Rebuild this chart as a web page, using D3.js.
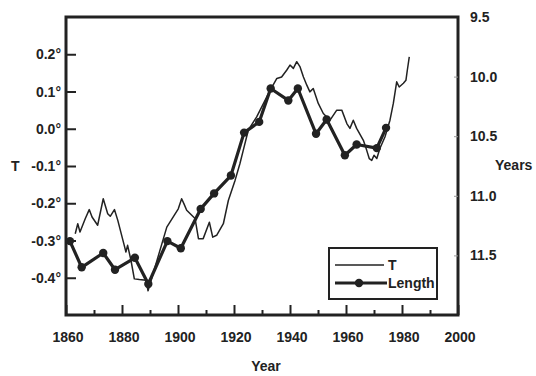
<!DOCTYPE html>
<html>
<head>
<meta charset="utf-8">
<script src="https://cdn.jsdelivr.net/npm/d3@7.9.0/dist/d3.min.js"></script>
<style>
  body { margin: 0; background: #fff; }
  svg text { font-family: "Liberation Sans", Arial, sans-serif; font-weight: bold; fill: #222; }
</style>
</head>
<body>
<svg id="chart" width="536" height="376"></svg>
<script>
// temperature anomaly (thin line)
const tYears = [1863.3, 1864.2, 1865.0, 1866.9, 1868.3, 1869.3, 1871.3, 1873.3, 1874.9, 1875.8, 1877.3, 1878.5,
  1880.8, 1881.4, 1882.0, 1883.2, 1884.4, 1886.2, 1888.6, 1889.3, 1896.0, 1900.1, 1901.3, 1902.1, 1903.1,
  1906.1, 1907.3, 1909.0, 1911.2, 1912.4, 1913.8, 1916.2, 1918.0, 1919.2, 1920.4, 1922.1, 1923.3, 1925.1,
  1928.1, 1932.9, 1935.3, 1937.0, 1938.8, 1940.0, 1941.2, 1942.4, 1943.6, 1944.8, 1946.0, 1947.1, 1948.3,
  1950.1, 1951.9, 1954.3, 1956.7, 1958.5, 1960.3, 1961.4, 1962.6, 1963.8, 1966.2, 1967.4, 1968.3, 1969.2,
  1970.0, 1971.0, 1972.1, 1973.9, 1975.7, 1976.9, 1978.1, 1979.0, 1980.5, 1981.4, 1981.9, 1982.6];
const tValues = [-0.282, -0.255, -0.277, -0.241, -0.217, -0.237, -0.259, -0.188, -0.228, -0.235, -0.217, -0.246,
  -0.313, -0.331, -0.313, -0.353, -0.403, -0.405, -0.407, -0.435, -0.264, -0.215, -0.188, -0.201, -0.219,
  -0.241, -0.295, -0.295, -0.251, -0.291, -0.286, -0.255, -0.192, -0.165, -0.138, -0.094, -0.058, -0.004,
  0.032, 0.103, 0.135, 0.139, 0.157, 0.171, 0.162, 0.180, 0.166, 0.139, 0.117, 0.099, 0.108,
  0.068, 0.041, 0.023, 0.050, 0.050, 0.014, 0.001, 0.023, 0.001, -0.031, -0.058, -0.080, -0.085,
  -0.071, -0.080, -0.053, -0.022, 0.023, 0.068, 0.126, 0.112, 0.122, 0.130, 0.157, 0.193];

// solar cycle length (thick line with dots, right axis)
const lenYears = [1861.4, 1865.6, 1873.3, 1877.5, 1884.6, 1889.4, 1896.2, 1901.0, 1908.1, 1912.9, 1918.9,
  1923.6, 1929.0, 1933.1, 1939.4, 1942.8, 1949.3, 1953.1, 1959.6, 1963.8, 1971.0, 1974.3];
const lenValues = [11.38, 11.60, 11.48, 11.62, 11.52, 11.74, 11.38, 11.44, 11.11, 10.98, 10.83,
  10.47, 10.38, 10.10, 10.20, 10.10, 10.48, 10.36, 10.66, 10.57, 10.60, 10.43];

const xTicks = [1860, 1880, 1900, 1920, 1940, 1960, 1980, 2000];
const xMinor = [1870, 1890, 1910, 1930, 1950, 1970, 1990];
const tTicks = [0.2, 0.1, 0.0, -0.1, -0.2, -0.3, -0.4];
const lenTicks = [9.5, 10.0, 10.5, 11.0, 11.5];

let svg = d3.select("#chart");
let ink = "#222";
let fs = "14px";

let x = d3.scaleLinear().domain([1860, 2000]).range([66, 458]);
let yT = d3.scaleLinear().domain([-0.5, 0.3]).range([315, 17]);
let yL = d3.scaleLinear().domain([9.5, 12.0]).range([17, 315]);

// frame
svg.append("rect")
  .attr("x", x(1860)).attr("y", yT(0.3))
  .attr("width", x(2000) - x(1860)).attr("height", yT(-0.5) - yT(0.3))
  .attr("fill", "none").attr("stroke", ink).attr("stroke-width", 3);

// left axis: inward ticks
let leftAxis = svg.append("g").attr("transform", `translate(${x(1860)},0)`)
  .call(d3.axisRight(yT).tickValues(tTicks).tickSize(10).tickFormat(""));
leftAxis.select(".domain").remove();
leftAxis.selectAll("line").attr("stroke", ink).attr("stroke-width", 2);

svg.append("g").selectAll("text")
  .data(tTicks).enter().append("text")
  .attr("x", 61).attr("y", d => yT(d)).attr("dy", "0.36em")
  .attr("text-anchor", "end").attr("font-size", fs)
  .text(d => d3.format(".1f")(d).replace("−", "-") + "°");

svg.append("text").attr("x", 11).attr("y", yT(-0.1)).attr("dy", "0.36em")
  .attr("font-size", fs).text("T");

// bottom axis: inward ticks
let bottomAxis = svg.append("g").attr("transform", `translate(0,${yT(-0.5)})`)
  .call(d3.axisTop(x).tickValues(xTicks).tickSize(10).tickFormat(""));
bottomAxis.select(".domain").remove();
bottomAxis.selectAll("line").attr("stroke", ink).attr("stroke-width", 2);

let minorAxis = svg.append("g").attr("transform", `translate(0,${yT(-0.5)})`)
  .call(d3.axisTop(x).tickValues(xMinor).tickSize(5).tickFormat(""));
minorAxis.select(".domain").remove();
minorAxis.selectAll("line").attr("stroke", ink).attr("stroke-width", 2);

svg.append("g").selectAll("text")
  .data(xTicks).enter().append("text")
  .attr("x", d => x(d) + 2).attr("y", 337).attr("dy", "0.36em")
  .attr("text-anchor", "middle").attr("font-size", fs)
  .text(d => d);

svg.append("text").attr("x", 266).attr("y", 366).attr("dy", "0.36em")
  .attr("text-anchor", "middle").attr("font-size", fs).text("Year");

// right axis
let rightAxis = svg.append("g").attr("transform", `translate(${x(2000)},0)`)
  .call(d3.axisLeft(yL).tickValues([10.0, 10.5, 11.0, 11.5]).tickSize(4).tickFormat(""));
rightAxis.select(".domain").remove();
rightAxis.selectAll("line").attr("stroke", "#999").attr("stroke-width", 1);

svg.append("g").selectAll("text")
  .data(lenTicks).enter().append("text")
  .attr("x", 470).attr("y", d => yL(d)).attr("dy", "0.36em")
  .attr("font-size", fs)
  .text(d => d3.format(".1f")(d));

svg.append("text").attr("x", 495).attr("y", 165).attr("dy", "0.36em")
  .attr("font-size", fs).text("Years");

// T line
let tData = tYears.map((d, i) => ({ year: d, v: tValues[i] }));
let lineT = d3.line().x(d => x(d.year)).y(d => yT(d.v));
svg.append("path")
  .datum(tData)
  .attr("fill", "none")
  .attr("stroke", ink)
  .attr("stroke-width", 1.5)
  .attr("stroke-linejoin", "round")
  .attr("d", lineT);

// Length line
let lenData = lenYears.map((d, i) => ({ year: d, v: lenValues[i] }));
let lineL = d3.line().x(d => x(d.year)).y(d => yL(d.v));
svg.append("path")
  .datum(lenData)
  .attr("fill", "none")
  .attr("stroke", ink)
  .attr("stroke-width", 3.2)
  .attr("stroke-linejoin", "round")
  .attr("d", lineL);

svg.append("g").selectAll("circle")
  .data(lenData).enter().append("circle")
  .attr("cx", d => x(d.year)).attr("cy", d => yL(d.v))
  .attr("r", 4.2).attr("fill", ink);

// legend
let legend = svg.append("g").attr("transform", "translate(329,248)");
legend.append("rect")
  .attr("width", 108).attr("height", 51)
  .attr("fill", "#fff").attr("stroke", ink).attr("stroke-width", 2);
legend.append("line")
  .attr("x1", 6).attr("x2", 55).attr("y1", 17).attr("y2", 17)
  .attr("stroke", ink).attr("stroke-width", 1.5);
legend.append("text").attr("x", 59).attr("y", 17).attr("dy", "0.36em")
  .attr("font-size", fs).text("T");
legend.append("line")
  .attr("x1", 6).attr("x2", 58).attr("y1", 35).attr("y2", 35)
  .attr("stroke", ink).attr("stroke-width", 3);
legend.append("circle").attr("cx", 30).attr("cy", 35).attr("r", 4.2).attr("fill", ink);
legend.append("text").attr("x", 59).attr("y", 35).attr("dy", "0.36em")
  .attr("font-size", fs).text("Length");
</script>
</body>
</html>
